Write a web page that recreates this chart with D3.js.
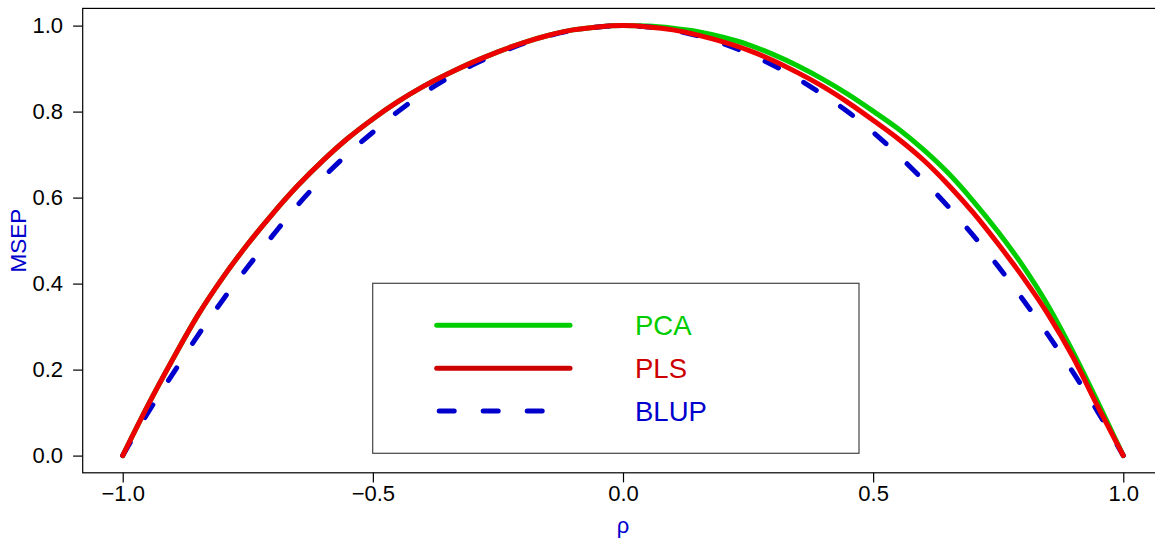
<!DOCTYPE html>
<html><head><meta charset="utf-8">
<script src="https://cdn.jsdelivr.net/npm/d3@7"></script>
<style>
body{margin:0;background:#fff;overflow:hidden}
text{font-family:"Liberation Sans",Arial,Helvetica,sans-serif}
</style>
</head><body>
<svg id="c" width="1155" height="548"></svg>
<script>
// ---- data ----
const rho = [-1,-0.95,-0.9,-0.85,-0.8,-0.75,-0.7,-0.65,-0.6,-0.55,-0.5,-0.45,-0.4,-0.35,-0.3,-0.25,-0.2,-0.15,-0.1,-0.05,
  0,0.05,0.1,0.15,0.2,0.25,0.3,0.35,0.4,0.45,0.5,0.55,0.6,0.65,0.7,0.75,0.8,0.85,0.9,0.95,1];
const pca = [0,0.116,0.224,0.326,0.414,0.492,0.563,0.628,0.686,0.738,0.783,0.823,0.858,0.888,0.915,0.939,0.960,0.977,0.990,0.997,
  1,0.999,0.994,0.986,0.973,0.956,0.933,0.906,0.875,0.840,0.801,0.760,0.712,0.657,0.592,0.520,0.440,0.348,0.240,0.122,0];
const pls = [0,0.116,0.224,0.326,0.414,0.492,0.563,0.628,0.686,0.738,0.783,0.823,0.858,0.888,0.915,0.939,0.960,0.977,0.990,0.997,
  1,0.997,0.990,0.978,0.962,0.943,0.919,0.890,0.858,0.821,0.780,0.737,0.688,0.630,0.565,0.492,0.414,0.328,0.228,0.112,0];
const blup = [0,0.099,0.190,0.279,0.362,0.439,0.512,0.583,0.646,0.702,0.752,0.800,0.842,0.878,0.909,0.935,0.958,0.976,0.989,0.997,
  1,0.997,0.989,0.976,0.958,0.935,0.908,0.876,0.839,0.799,0.752,0.699,0.641,0.579,0.512,0.440,0.362,0.280,0.193,0.100,0];
const xTicks = [-1, -0.5, 0, 0.5, 1];
const yTicks = [0, 0.2, 0.4, 0.6, 0.8, 1];
const seriesNames = ["PCA", "PLS", "BLUP"];

// ---- styles ----
const lineColors = {PCA:"#00CD00", PLS:"#EE0000", BLUP:"#0000CD"};
const textColors = {PCA:"#00CD00", PLS:"#CD0000", BLUP:"#0000CD"};
const dash = {PCA:null, PLS:null, BLUP:"15,29"};

const svg = d3.select("#c");
const x = d3.scaleLinear().domain([-1.08, 1.08]).range([82.7, 1163.3]);
const y = d3.scaleLinear().domain([-0.04, 1.04]).range([472.8, 8.4]);

// plot box
svg.append("rect").attr("x", x(-1.08)).attr("y", y(1.04))
  .attr("width", x(1.08) - x(-1.08)).attr("height", y(-0.04) - y(1.04))
  .attr("fill", "none").attr("stroke", "#000").attr("stroke-width", 1.2);

const fmt = d => (d < 0 ? "\u2212" : "") + d3.format(".1f")(Math.abs(d));

// axes
const ax = svg.append("g").attr("transform", `translate(0,${y(-0.04)})`)
  .call(d3.axisBottom(x).tickValues(xTicks).tickFormat(fmt).tickSize(9.6).tickSizeOuter(0).tickPadding(3));
const ay = svg.append("g").attr("transform", `translate(${x(-1.08)},0)`)
  .call(d3.axisLeft(y).tickValues(yTicks).tickFormat(fmt).tickSize(9.6).tickSizeOuter(0).tickPadding(10));
[ax, ay].forEach(g => {
  g.select(".domain").remove();
  g.selectAll("line").attr("stroke", "#000").attr("stroke-width", 1.2);
  g.selectAll("text").attr("fill", "#000").style("font-size", "22px")
    .style("font-family", '"Liberation Sans",Arial,sans-serif');
});

// axis titles
svg.append("text").attr("transform", `translate(25.5,${(y(-0.04)+y(1.04))/2}) rotate(-90)`)
  .attr("text-anchor", "middle").attr("fill", "#0000CD").style("font-size", "22.5px").text("MSEP");
svg.append("text").attr("x", x(0)).attr("y", 533).attr("text-anchor", "middle")
  .attr("fill", "#0000CD").style("font-size", "22px").text("\u03C1");

// curves
const data = {PCA: pca, PLS: pls, BLUP: blup};
const line = d3.line().x((d, i) => x(rho[i])).y(d => y(d)).curve(d3.curveMonotoneX);
["PCA", "BLUP", "PLS"].forEach(k => {
  svg.append("path").datum(data[k]).attr("d", line)
    .attr("fill", "none").attr("stroke", lineColors[k]).attr("stroke-width", 5)
    .attr("stroke-linecap", "round").attr("stroke-linejoin", "round")
    .attr("stroke-dasharray", dash[k]);
});

// legend
const lg = svg.append("g");
lg.append("rect").attr("x", 372.7).attr("y", 283.3).attr("width", 486.3).attr("height", 170)
  .attr("fill", "#fff").attr("stroke", "#444").attr("stroke-width", 1.2);
const ly = d3.scalePoint().domain(seriesNames).range([325.3, 411]);
seriesNames.forEach(k => {
  const dashed = dash[k] !== null;
  lg.append("line").attr("x1", dashed ? 439.2 : 436.7).attr("x2", dashed ? 545 : 570)
    .attr("y1", ly(k)).attr("y2", ly(k))
    .attr("stroke", k === "PLS" ? textColors[k] : lineColors[k]).attr("stroke-width", 5)
    .attr("stroke-linecap", "round").attr("stroke-dasharray", dash[k]);
  lg.append("text").attr("x", 635).attr("y", ly(k) + 9.8).attr("fill", textColors[k])
    .style("font-size", "27.5px").text(k);
});
</script>
</body></html>
